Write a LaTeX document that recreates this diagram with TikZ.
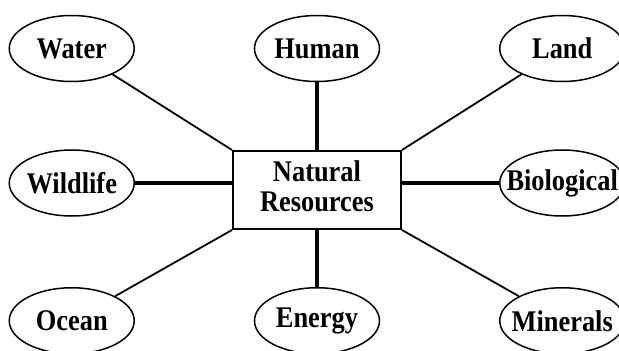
\documentclass[tikz,border=0pt]{standalone}
\usepackage{fontspec}
\setmainfont{Liberation Serif}[FakeStretch=0.88]
\usetikzlibrary{matrix}
\usetikzlibrary{shapes.geometric}

\tikzset{
	res/.style={ellipse,draw,line width=1.5pt,minimum width=125pt,minimum height=66pt,inner sep=0pt},
	hub/.style={rectangle,draw,line width=2pt,minimum width=168pt,minimum height=78pt,inner sep=0pt},
	spoke/.style={line width=1.8pt},
	bar/.style={line width=3.2pt}
}

\begin{document}
\begin{tikzpicture}
	\useasboundingbox (-317pt,-161pt) rectangle (302pt,190pt);
	\matrix (tree) at (0,0) [%
	matrix of nodes,
	matrix anchor=tree-2-2.center,
	nodes={anchor=center,font=\fontsize{30}{30}\selectfont\bfseries},
	column sep=97pt,
	row sep=67pt,ampersand replacement=\&
	]
	{
		|[res]| \makebox[0pt]{Water} \& |[res]| \makebox[0pt]{Human} \& |[res]| \makebox[0pt]{Land} \\
		|[res,yshift=7pt]| \makebox[0pt]{Wildlife} \& |[hub]| \begin{tabular}{@{}c@{}}Natural\\Resources\end{tabular} \& |[res,yshift=7pt]| \makebox[0pt]{Biological} \\[-10pt]
		|[res]| \makebox[0pt]{Ocean} \& |[res]| \makebox[0pt]{Energy} \& |[res]| \makebox[0pt]{Minerals} \\
	};
	\draw[spoke] (tree-1-1) -- (tree-2-2.north west);
	\draw[bar] (tree-1-2) -- (tree-2-2);
	\draw[spoke] (tree-1-3) -- (tree-2-2.north east);
	\draw[bar] (tree-2-1) -- (tree-2-1 -| tree-2-2.west);
	\draw[bar] (tree-2-3 -| tree-2-2.east) -- (tree-2-3);
	\draw[spoke] (tree-3-1) -- (tree-2-2.south west);
	\draw[bar] (tree-3-2) -- (tree-2-2);
	\draw[spoke] (tree-3-3) -- (tree-2-2.south east);
\end{tikzpicture}
\end{document}
